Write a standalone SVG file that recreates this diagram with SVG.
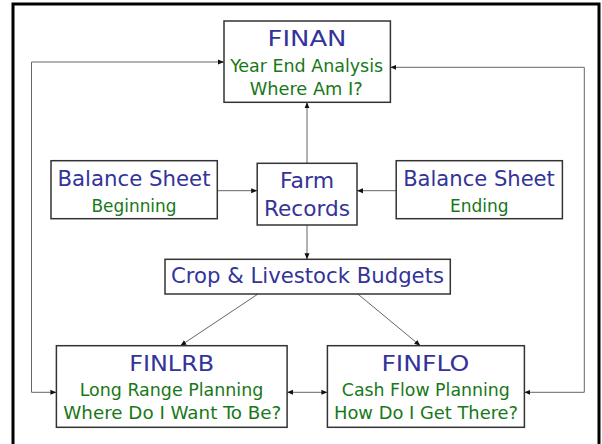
<svg xmlns="http://www.w3.org/2000/svg" width="602" height="444" viewBox="0 0 602 444">
<style>
.box{fill:#fff;stroke:#333;stroke-width:1.5}
.t{font-family:"DejaVu Sans",sans-serif;fill:#333399;text-anchor:middle;font-size:22px}
.g{font-family:"DejaVu Sans Condensed","Liberation Sans",Arial,sans-serif;fill:#187818;text-anchor:middle;font-size:17.5px}
.c{fill:none;stroke:#666;stroke-width:1}
</style>
<defs>
<marker id="a" viewBox="0 0 6 6" refX="6" refY="3" markerWidth="6" markerHeight="6" markerUnits="userSpaceOnUse" orient="auto-start-reverse">
<path d="M0,0.5 L6,3 L0,5.5 Z" fill="#111"/>
</marker>
</defs>
<rect x="0" y="0" width="602" height="444" fill="#fff"/>
<rect x="13" y="4" width="586" height="470" fill="none" stroke="#000" stroke-width="3"/>
<g id="connectors">
<path class="c" d="M224,62 H31.5 V392.3 H56.4" marker-start="url(#a)" marker-end="url(#a)"/>
<path class="c" d="M390.4,67.3 H584.3 V392.3 H524.4" marker-start="url(#a)" marker-end="url(#a)"/>
<path class="c" d="M307,163.3 V102.3" marker-end="url(#a)"/>
<path class="c" d="M217.3,190.7 H257.2" marker-end="url(#a)"/>
<path class="c" d="M396.2,190.7 H357" marker-end="url(#a)"/>
<path class="c" d="M307,225 V259.3" marker-end="url(#a)"/>
<path class="c" d="M258,294 L180.4,345.7" marker-end="url(#a)"/>
<path class="c" d="M357.8,294 L420.3,345.7" marker-end="url(#a)"/>
<path class="c" d="M287.1,392.3 H327.4" marker-start="url(#a)" marker-end="url(#a)"/>
</g>
<g id="finan">
<rect class="box" x="224" y="21" width="166.4" height="81.3"/>
<text class="t" x="307" y="45.7" textLength="79" lengthAdjust="spacingAndGlyphs">FINAN</text>
<text class="g" x="306.7" y="72" textLength="153" lengthAdjust="spacingAndGlyphs">Year End Analysis</text>
<text class="g" x="306.2" y="95" textLength="113" lengthAdjust="spacingAndGlyphs">Where Am I?</text>
</g>
<g id="bs-begin">
<rect class="box" x="51" y="160.7" width="166.3" height="58"/>
<text class="t" x="134" y="185.7" textLength="153" lengthAdjust="spacingAndGlyphs">Balance Sheet</text>
<text class="g" x="134" y="211.7" textLength="85" lengthAdjust="spacingAndGlyphs">Beginning</text>
</g>
<g id="farm-records">
<rect class="box" x="257.2" y="163.3" width="99.8" height="61.7"/>
<text class="t" x="307" y="187.7" textLength="54" lengthAdjust="spacingAndGlyphs">Farm</text>
<text class="t" x="307" y="216" textLength="86" lengthAdjust="spacingAndGlyphs">Records</text>
</g>
<g id="bs-end">
<rect class="box" x="396.2" y="160.7" width="166.2" height="58"/>
<text class="t" x="479" y="185.7" textLength="151.7" lengthAdjust="spacingAndGlyphs">Balance Sheet</text>
<text class="g" x="479.3" y="211.7" textLength="58.7" lengthAdjust="spacingAndGlyphs">Ending</text>
</g>
<g id="budgets">
<rect class="box" x="165" y="259.3" width="285.3" height="34.7"/>
<text class="t" x="307.5" y="283.3" textLength="273" lengthAdjust="spacingAndGlyphs">Crop &amp; Livestock Budgets</text>
</g>
<g id="finlrb">
<rect class="box" x="56.4" y="345.7" width="230.7" height="81.6"/>
<text class="t" x="171.7" y="371" textLength="85" lengthAdjust="spacingAndGlyphs">FINLRB</text>
<text class="g" x="171.5" y="396" textLength="183.5" lengthAdjust="spacingAndGlyphs">Long Range Planning</text>
<text class="g" x="172.3" y="419.3" textLength="218" lengthAdjust="spacingAndGlyphs">Where Do I Want To Be?</text>
</g>
<g id="finflo">
<rect class="box" x="327.4" y="345.7" width="197" height="81.6"/>
<text class="t" x="425.4" y="371" textLength="88" lengthAdjust="spacingAndGlyphs">FINFLO</text>
<text class="g" x="425.8" y="396" textLength="168" lengthAdjust="spacingAndGlyphs">Cash Flow Planning</text>
<text class="g" x="426" y="419.3" textLength="184" lengthAdjust="spacingAndGlyphs">How Do I Get There?</text>
</g>
</svg>
